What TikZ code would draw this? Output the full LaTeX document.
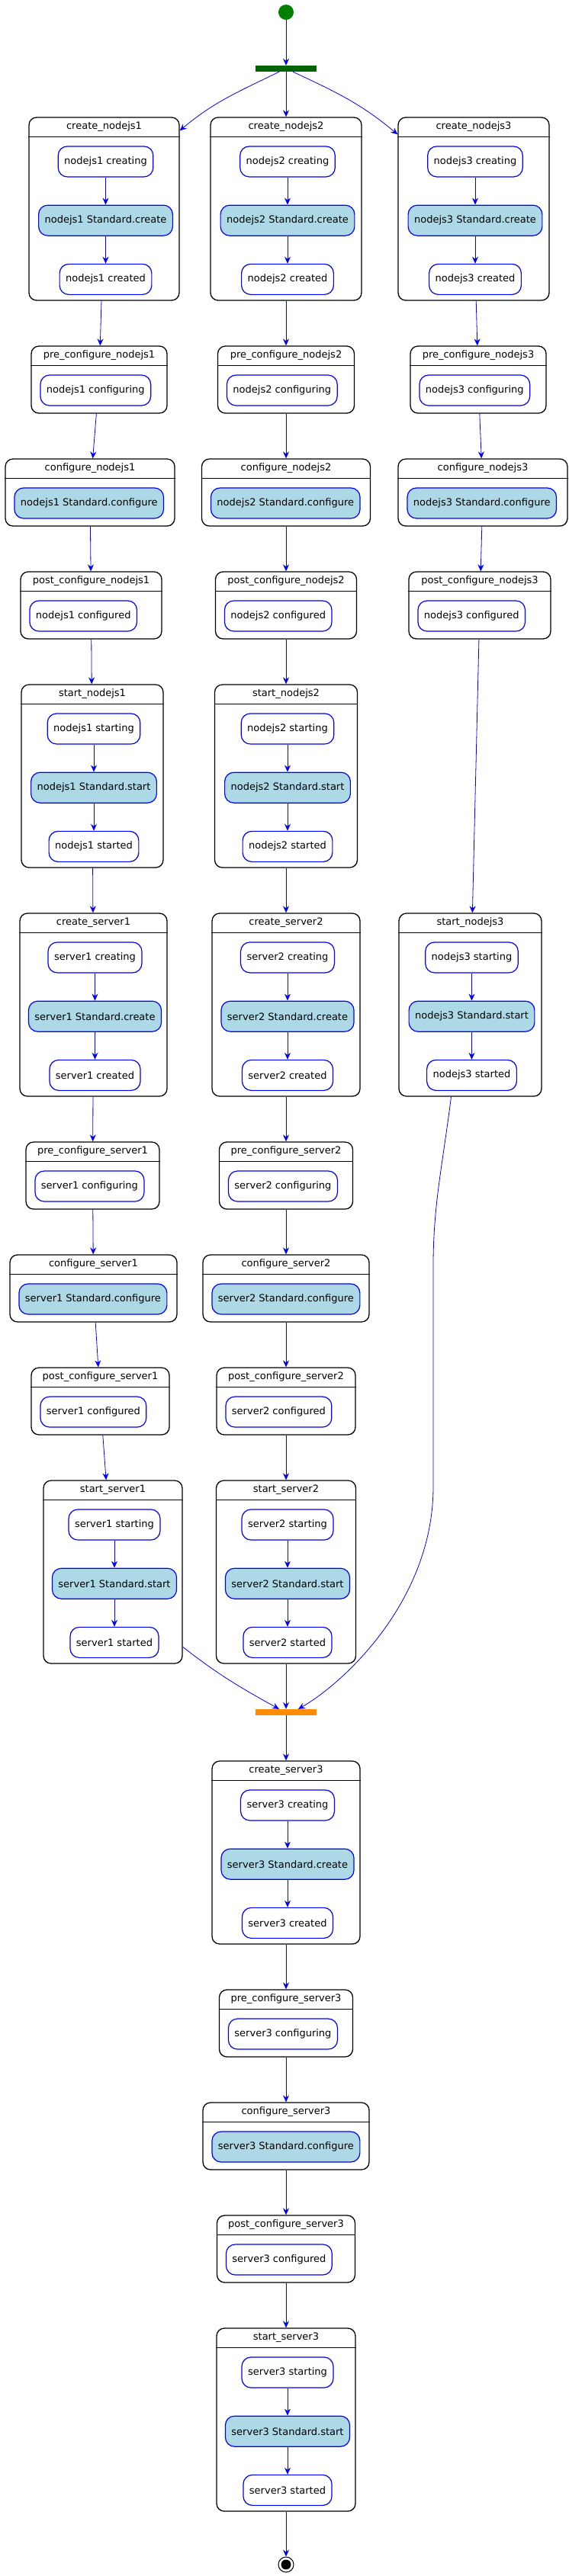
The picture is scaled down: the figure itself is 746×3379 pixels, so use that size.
\documentclass[tikz,border=0pt]{standalone}
\usepackage{fontspec}
\setmainfont{DejaVu Sans}
\usepackage{tikz}
\usetikzlibrary{arrows.meta,positioning}

\definecolor{startgreen}{RGB}{0,128,0}
\definecolor{forkgreen}{RGB}{0,100,0}
\definecolor{joinorange}{RGB}{255,140,0}
\definecolor{calllight}{RGB}{173,216,230}

\begin{document}
\begin{tikzpicture}[->,>={Stealth[length=9pt,width=8pt,inset=3pt]}, x=1pt, y=-1pt, font=\fontsize{13}{15}\selectfont]
	\tikzstyle{every edge}=[draw=blue, line width=0.8pt]
	\tikzstyle{flow}=[draw=blue, line width=0.8pt]
	\tikzstyle{tall state}=[draw=black, line width=1.3pt, rounded corners=10pt, fill=white, inner sep=0pt, minimum height=240pt]
	\tikzstyle{short state}=[tall state, minimum height=88pt]
	\tikzstyle{state title}=[anchor=north, inner sep=0pt, minimum height=26pt]
	\tikzstyle{header}=[-, draw=black, line width=1.3pt]
	\tikzstyle{activity}=[draw=blue, line width=1.2pt, rounded corners=12pt, fill=white, minimum height=40pt, inner xsep=8pt, inner ysep=0pt]
	\tikzstyle{call}=[activity, fill=calllight]
	\tikzstyle{bar}=[inner sep=0pt, minimum width=80pt, minimum height=8pt]
	\useasboundingbox (0,0) rectangle (746,3379);

	% start and fork
	\node[circle, fill=startgreen, inner sep=0pt, minimum size=20pt] (INIT) at (375,16) {};
	\node[bar, fill=forkgreen] (FORK) at (375,90) {};

	% column 1: nodejs1 then server1
	\node[tall state, minimum width=197pt] (CN1) at (136.5,274) {};
	\node[state title] (CN1t) at (CN1.north) {create\_nodejs1};
	\draw[header] ([yshift=-26pt]CN1.north west) -- ([yshift=-26pt]CN1.north east);
	\node[activity, below=38pt of CN1.north, xshift=2pt] (CN1a) {nodejs1 creating};
	\node[call, below=36pt of CN1a] (CN1b) {nodejs1 Standard.create};
	\node[activity, below=36pt of CN1b] (CN1c) {nodejs1 created};

	\node[short state, minimum width=178pt] (PCN1) at (130,498) {};
	\node[state title] (PCN1t) at (PCN1.north) {pre\_configure\_nodejs1};
	\draw[header] ([yshift=-26pt]PCN1.north west) -- ([yshift=-26pt]PCN1.north east);
	\node[activity, anchor=west, right=12pt of PCN1.west, yshift=-14pt] (PCN1a) {nodejs1 configuring};

	\node[short state, minimum width=222pt] (CFN1) at (118,646) {};
	\node[state title] (CFN1t) at (CFN1.north) {configure\_nodejs1};
	\draw[header] ([yshift=-26pt]CFN1.north west) -- ([yshift=-26pt]CFN1.north east);
	\node[call, anchor=west, right=12pt of CFN1.west, yshift=-14pt] (CFN1a) {nodejs1 Standard.configure};

	\node[short state, minimum width=185pt] (PON1) at (119.5,794) {};
	\node[state title] (PON1t) at (PON1.north) {post\_configure\_nodejs1};
	\draw[header] ([yshift=-26pt]PON1.north west) -- ([yshift=-26pt]PON1.north east);
	\node[activity, anchor=west, right=12pt of PON1.west, yshift=-14pt] (PON1a) {nodejs1 configured};

	\node[tall state, minimum width=186pt] (SN1) at (121,1018) {};
	\node[state title] (SN1t) at (SN1.north) {start\_nodejs1};
	\draw[header] ([yshift=-26pt]SN1.north west) -- ([yshift=-26pt]SN1.north east);
	\node[activity, below=38pt of SN1.north, xshift=2pt] (SN1a) {nodejs1 starting};
	\node[call, below=36pt of SN1a] (SN1b) {nodejs1 Standard.start};
	\node[activity, below=36pt of SN1b] (SN1c) {nodejs1 started};

	\node[tall state, minimum width=193pt] (CS1) at (122.5,1318) {};
	\node[state title] (CS1t) at (CS1.north) {create\_server1};
	\draw[header] ([yshift=-26pt]CS1.north west) -- ([yshift=-26pt]CS1.north east);
	\node[activity, below=38pt of CS1.north, xshift=2pt] (CS1a) {server1 creating};
	\node[call, below=36pt of CS1a] (CS1b) {server1 Standard.create};
	\node[activity, below=36pt of CS1b] (CS1c) {server1 created};

	\node[short state, minimum width=175pt] (PCS1) at (121.5,1542) {};
	\node[state title] (PCS1t) at (PCS1.north) {pre\_configure\_server1};
	\draw[header] ([yshift=-26pt]PCS1.north west) -- ([yshift=-26pt]PCS1.north east);
	\node[activity, anchor=west, right=12pt of PCS1.west, yshift=-14pt] (PCS1a) {server1 configuring};

	\node[short state, minimum width=219pt] (CFS1) at (122.5,1690) {};
	\node[state title] (CFS1t) at (CFS1.north) {configure\_server1};
	\draw[header] ([yshift=-26pt]CFS1.north west) -- ([yshift=-26pt]CFS1.north east);
	\node[call, anchor=west, right=12pt of CFS1.west, yshift=-14pt] (CFS1a) {server1 Standard.configure};

	\node[short state, minimum width=181pt] (POS1) at (131.5,1838) {};
	\node[state title] (POS1t) at (POS1.north) {post\_configure\_server1};
	\draw[header] ([yshift=-26pt]POS1.north west) -- ([yshift=-26pt]POS1.north east);
	\node[activity, anchor=west, right=12pt of POS1.west, yshift=-14pt] (POS1a) {server1 configured};

	\node[tall state, minimum width=182pt] (SS1) at (148,2062) {};
	\node[state title] (SS1t) at (SS1.north) {start\_server1};
	\draw[header] ([yshift=-26pt]SS1.north west) -- ([yshift=-26pt]SS1.north east);
	\node[activity, below=38pt of SS1.north, xshift=2pt] (SS1a) {server1 starting};
	\node[call, below=36pt of SS1a] (SS1b) {server1 Standard.start};
	\node[activity, below=36pt of SS1b] (SS1c) {server1 started};

	% column 2: nodejs2 then server2
	\node[tall state, minimum width=198pt] (CN2) at (375,274) {};
	\node[state title] (CN2t) at (CN2.north) {create\_nodejs2};
	\draw[header] ([yshift=-26pt]CN2.north west) -- ([yshift=-26pt]CN2.north east);
	\node[activity, below=38pt of CN2.north, xshift=2pt] (CN2a) {nodejs2 creating};
	\node[call, below=36pt of CN2a] (CN2b) {nodejs2 Standard.create};
	\node[activity, below=36pt of CN2b] (CN2c) {nodejs2 created};

	\node[short state, minimum width=179pt] (PCN2) at (375,498) {};
	\node[state title] (PCN2t) at (PCN2.north) {pre\_configure\_nodejs2};
	\draw[header] ([yshift=-26pt]PCN2.north west) -- ([yshift=-26pt]PCN2.north east);
	\node[activity, anchor=west, right=12pt of PCN2.west, yshift=-14pt] (PCN2a) {nodejs2 configuring};

	\node[short state, minimum width=221pt] (CFN2) at (375,646) {};
	\node[state title] (CFN2t) at (CFN2.north) {configure\_nodejs2};
	\draw[header] ([yshift=-26pt]CFN2.north west) -- ([yshift=-26pt]CFN2.north east);
	\node[call, anchor=west, right=12pt of CFN2.west, yshift=-14pt] (CFN2a) {nodejs2 Standard.configure};

	\node[short state, minimum width=185pt] (PON2) at (375,794) {};
	\node[state title] (PON2t) at (PON2.north) {post\_configure\_nodejs2};
	\draw[header] ([yshift=-26pt]PON2.north west) -- ([yshift=-26pt]PON2.north east);
	\node[activity, anchor=west, right=12pt of PON2.west, yshift=-14pt] (PON2a) {nodejs2 configured};

	\node[tall state, minimum width=187pt] (SN2) at (375,1018) {};
	\node[state title] (SN2t) at (SN2.north) {start\_nodejs2};
	\draw[header] ([yshift=-26pt]SN2.north west) -- ([yshift=-26pt]SN2.north east);
	\node[activity, below=38pt of SN2.north, xshift=2pt] (SN2a) {nodejs2 starting};
	\node[call, below=36pt of SN2a] (SN2b) {nodejs2 Standard.start};
	\node[activity, below=36pt of SN2b] (SN2c) {nodejs2 started};

	\node[tall state, minimum width=194pt] (CS2) at (375,1318) {};
	\node[state title] (CS2t) at (CS2.north) {create\_server2};
	\draw[header] ([yshift=-26pt]CS2.north west) -- ([yshift=-26pt]CS2.north east);
	\node[activity, below=38pt of CS2.north, xshift=2pt] (CS2a) {server2 creating};
	\node[call, below=36pt of CS2a] (CS2b) {server2 Standard.create};
	\node[activity, below=36pt of CS2b] (CS2c) {server2 created};

	\node[short state, minimum width=175pt] (PCS2) at (375,1542) {};
	\node[state title] (PCS2t) at (PCS2.north) {pre\_configure\_server2};
	\draw[header] ([yshift=-26pt]PCS2.north west) -- ([yshift=-26pt]PCS2.north east);
	\node[activity, anchor=west, right=12pt of PCS2.west, yshift=-14pt] (PCS2a) {server2 configuring};

	\node[short state, minimum width=218pt] (CFS2) at (375,1690) {};
	\node[state title] (CFS2t) at (CFS2.north) {configure\_server2};
	\draw[header] ([yshift=-26pt]CFS2.north west) -- ([yshift=-26pt]CFS2.north east);
	\node[call, anchor=west, right=12pt of CFS2.west, yshift=-14pt] (CFS2a) {server2 Standard.configure};

	\node[short state, minimum width=182pt] (POS2) at (375,1838) {};
	\node[state title] (POS2t) at (POS2.north) {post\_configure\_server2};
	\draw[header] ([yshift=-26pt]POS2.north west) -- ([yshift=-26pt]POS2.north east);
	\node[activity, anchor=west, right=12pt of POS2.west, yshift=-14pt] (POS2a) {server2 configured};

	\node[tall state, minimum width=183pt] (SS2) at (375,2062) {};
	\node[state title] (SS2t) at (SS2.north) {start\_server2};
	\draw[header] ([yshift=-26pt]SS2.north west) -- ([yshift=-26pt]SS2.north east);
	\node[activity, below=38pt of SS2.north, xshift=2pt] (SS2a) {server2 starting};
	\node[call, below=36pt of SS2a] (SS2b) {server2 Standard.start};
	\node[activity, below=36pt of SS2b] (SS2c) {server2 started};

	% column 3: nodejs3
	\node[tall state, minimum width=198pt] (CN3) at (621,274) {};
	\node[state title] (CN3t) at (CN3.north) {create\_nodejs3};
	\draw[header] ([yshift=-26pt]CN3.north west) -- ([yshift=-26pt]CN3.north east);
	\node[activity, below=38pt of CN3.north, xshift=2pt] (CN3a) {nodejs3 creating};
	\node[call, below=36pt of CN3a] (CN3b) {nodejs3 Standard.create};
	\node[activity, below=36pt of CN3b] (CN3c) {nodejs3 created};

	\node[short state, minimum width=178pt] (PCN3) at (627,498) {};
	\node[state title] (PCN3t) at (PCN3.north) {pre\_configure\_nodejs3};
	\draw[header] ([yshift=-26pt]PCN3.north west) -- ([yshift=-26pt]PCN3.north east);
	\node[activity, anchor=west, right=12pt of PCN3.west, yshift=-14pt] (PCN3a) {nodejs3 configuring};

	\node[short state, minimum width=222pt] (CFN3) at (633,646) {};
	\node[state title] (CFN3t) at (CFN3.north) {configure\_nodejs3};
	\draw[header] ([yshift=-26pt]CFN3.north west) -- ([yshift=-26pt]CFN3.north east);
	\node[call, anchor=west, right=12pt of CFN3.west, yshift=-14pt] (CFN3a) {nodejs3 Standard.configure};

	\node[short state, minimum width=186pt] (PON3) at (629,794) {};
	\node[state title] (PON3t) at (PON3.north) {post\_configure\_nodejs3};
	\draw[header] ([yshift=-26pt]PON3.north west) -- ([yshift=-26pt]PON3.north east);
	\node[activity, anchor=west, right=12pt of PON3.west, yshift=-14pt] (PON3a) {nodejs3 configured};

	\node[tall state, minimum width=187pt] (SN3) at (616.5,1318) {};
	\node[state title] (SN3t) at (SN3.north) {start\_nodejs3};
	\draw[header] ([yshift=-26pt]SN3.north west) -- ([yshift=-26pt]SN3.north east);
	\node[activity, below=38pt of SN3.north, xshift=2pt] (SN3a) {nodejs3 starting};
	\node[call, below=36pt of SN3a] (SN3b) {nodejs3 Standard.start};
	\node[activity, below=36pt of SN3b] (SN3c) {nodejs3 started};

	% join and server3
	\node[bar, fill=joinorange] (JOIN) at (375,2246) {};

	\node[tall state, minimum width=194pt] (CS3) at (375,2430) {};
	\node[state title] (CS3t) at (CS3.north) {create\_server3};
	\draw[header] ([yshift=-26pt]CS3.north west) -- ([yshift=-26pt]CS3.north east);
	\node[activity, below=38pt of CS3.north, xshift=2pt] (CS3a) {server3 creating};
	\node[call, below=36pt of CS3a] (CS3b) {server3 Standard.create};
	\node[activity, below=36pt of CS3b] (CS3c) {server3 created};

	\node[short state, minimum width=175pt] (PCS3) at (375,2654) {};
	\node[state title] (PCS3t) at (PCS3.north) {pre\_configure\_server3};
	\draw[header] ([yshift=-26pt]PCS3.north west) -- ([yshift=-26pt]PCS3.north east);
	\node[activity, anchor=west, right=12pt of PCS3.west, yshift=-14pt] (PCS3a) {server3 configuring};

	\node[short state, minimum width=218pt] (CFS3) at (375,2802) {};
	\node[state title] (CFS3t) at (CFS3.north) {configure\_server3};
	\draw[header] ([yshift=-26pt]CFS3.north west) -- ([yshift=-26pt]CFS3.north east);
	\node[call, anchor=west, right=12pt of CFS3.west, yshift=-14pt] (CFS3a) {server3 Standard.configure};

	\node[short state, minimum width=181pt] (POS3) at (375,2950) {};
	\node[state title] (POS3t) at (POS3.north) {post\_configure\_server3};
	\draw[header] ([yshift=-26pt]POS3.north west) -- ([yshift=-26pt]POS3.north east);
	\node[activity, anchor=west, right=12pt of POS3.west, yshift=-14pt] (POS3a) {server3 configured};

	\node[tall state, minimum width=182pt] (SS3) at (375,3174) {};
	\node[state title] (SS3t) at (SS3.north) {start\_server3};
	\draw[header] ([yshift=-26pt]SS3.north west) -- ([yshift=-26pt]SS3.north east);
	\node[activity, below=38pt of SS3.north, xshift=2pt] (SS3a) {server3 starting};
	\node[call, below=36pt of SS3a] (SS3b) {server3 Standard.start};
	\node[activity, below=36pt of SS3b] (SS3c) {server3 started};

	\node[circle, draw=black, line width=1pt, fill=white, inner sep=0pt, minimum size=20pt] (FINAL) at (375,3364) {};
	\fill[black] (FINAL.center) circle (6.5pt);

	% inner transitions
	\path (CN1a) edge (CN1b) (CN1b) edge (CN1c);
	\path (CN2a) edge (CN2b) (CN2b) edge (CN2c);
	\path (CN3a) edge (CN3b) (CN3b) edge (CN3c);
	\path (SN1a) edge (SN1b) (SN1b) edge (SN1c);
	\path (SN2a) edge (SN2b) (SN2b) edge (SN2c);
	\path (SN3a) edge (SN3b) (SN3b) edge (SN3c);
	\path (CS1a) edge (CS1b) (CS1b) edge (CS1c);
	\path (CS2a) edge (CS2b) (CS2b) edge (CS2c);
	\path (CS3a) edge (CS3b) (CS3b) edge (CS3c);
	\path (SS1a) edge (SS1b) (SS1b) edge (SS1c);
	\path (SS2a) edge (SS2b) (SS2b) edge (SS2c);
	\path (SS3a) edge (SS3b) (SS3b) edge (SS3c);

	% fork
	\path (INIT) edge (FORK);
	\path ([xshift=-9pt]FORK.south) edge [out=206, in=40] ([yshift=-18pt]CN1.north east);
	\path (FORK) edge (CN2);
	\path ([xshift=9pt]FORK.south) edge [out=-25, in=140] ([yshift=-23pt]CN3.north west);

	% columns
	\path (CN1) edge (PCN1) (PCN1) edge (CFN1) (CFN1) edge (PON1) (PON1) edge (SN1) (SN1) edge (CS1);
	\path (CS1) edge (PCS1) (PCS1) edge (CFS1) (CFS1) edge (POS1) (POS1) edge (SS1);
	\path (CN2) edge (PCN2) (PCN2) edge (CFN2) (CFN2) edge (PON2) (PON2) edge (SN2) (SN2) edge (CS2);
	\path (CS2) edge (PCS2) (PCS2) edge (CFS2) (CFS2) edge (POS2) (POS2) edge (SS2);
	\path (CN3) edge (PCN3) (PCN3) edge (CFN3) (CFN3) edge (PON3) (PON3) edge (SN3);

	% join
	\path (SS1.-47) edge [out=-38, in=151] ([xshift=-9pt]JOIN.north);
	\path (SS2) edge (JOIN);
	\draw[flow] ([xshift=-25pt]SN3.south) .. controls (580,1530) and (568,1580) .. (568,1660) -- (568,1950) .. controls (568,2100) and (450,2208) .. ([xshift=16pt]JOIN.north);

	% server3
	\path (JOIN) edge (CS3) (CS3) edge (PCS3) (PCS3) edge (CFS3) (CFS3) edge (POS3) (POS3) edge (SS3) (SS3) edge (FINAL);
\end{tikzpicture}
\end{document}
